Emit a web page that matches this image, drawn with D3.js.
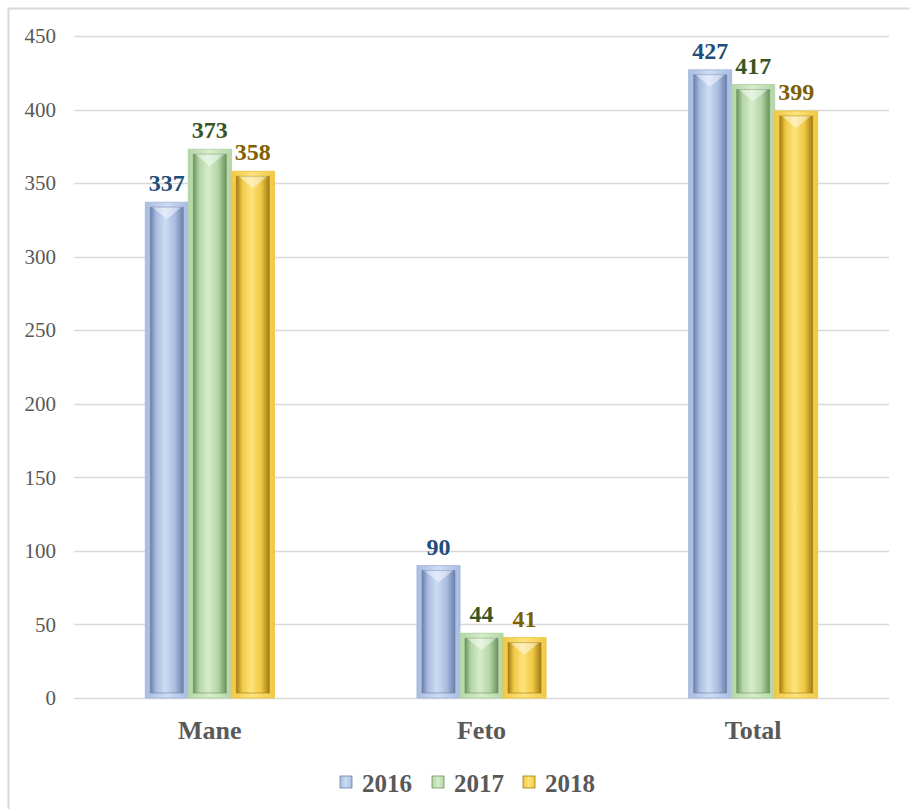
<!DOCTYPE html>
<html>
<head>
<meta charset="utf-8">
<script src="https://cdn.jsdelivr.net/npm/d3@7"></script>
<style>
  body { margin: 0; background: #fff; }
  svg { display: block; }
</style>
</head>
<body>
<div id="chart"></div>
<script>
(function() {
  var categories = ["Mane", "Feto", "Total"];
  var years = ["2016", "2017", "2018"];
  var values2016 = [337, 90, 427];
  var values2017 = [373, 44, 417];
  var values2018 = [358, 41, 399];
  var yTicks = [0, 50, 100, 150, 200, 250, 300, 350, 400, 450];

  var seriesValues = [values2016, values2017, values2018];

  // bar shading per series: [mid, light, dark, label colour]
  var palette = {
    "2016": { mid: "#A9BCDF", light: "#CDDCF5", dark: "#6A80AA", label: "#1F4E79" },
    "2017": { mid: "#B4D5A7", light: "#D5EDCB", dark: "#6A935B", label: "#375623" },
    "2018": { mid: "#EFC845", light: "#FDE47C", dark: "#A47C12", label: "#7F6000" }
  };

  var width = 910, height = 809;
  var margin = { left: 74, right: 21, top: 36, bottom: 111 };
  var font = "'Liberation Serif', 'Times New Roman', serif";

  var svg = d3.select("#chart").append("svg")
    .attr("width", width).attr("height", height);

  var defs = svg.append("defs");
  years.forEach(function(yr) {
    var p = palette[yr];
    var g = defs.append("linearGradient").attr("id", "outer" + yr)
      .attr("x1", "0").attr("x2", "1").attr("y1", "0").attr("y2", "0");
    g.append("stop").attr("offset", "0%").attr("stop-color", p.mid);
    g.append("stop").attr("offset", "50%").attr("stop-color", p.light);
    g.append("stop").attr("offset", "100%").attr("stop-color", p.mid);
    var h = defs.append("linearGradient").attr("id", "inner" + yr)
      .attr("x1", "0").attr("x2", "1").attr("y1", "0").attr("y2", "0");
    h.append("stop").attr("offset", "0%").attr("stop-color", p.dark);
    h.append("stop").attr("offset", "18%").attr("stop-color", p.mid);
    h.append("stop").attr("offset", "45%").attr("stop-color", p.light);
    h.append("stop").attr("offset", "75%").attr("stop-color", p.mid);
    h.append("stop").attr("offset", "100%").attr("stop-color", p.dark);
  });

  // chart border
  svg.append("rect")
    .attr("x", 8.5).attr("y", 8.5)
    .attr("width", width).attr("height", height)
    .attr("fill", "none").attr("stroke", "#d9d9d9").attr("stroke-width", 2);

  var x0 = d3.scaleBand().domain(categories)
    .range([margin.left, width - margin.right])
    .paddingInner(0.525).paddingOuter(0.2625);
  var x1 = d3.scaleBand().domain(years).range([0, x0.bandwidth()]).padding(0);
  var y = d3.scaleLinear().domain([0, 450]).range([height - margin.bottom, margin.top]);

  // grid
  svg.append("g").selectAll("line").data(yTicks).join("line")
    .attr("x1", margin.left).attr("x2", width - margin.right)
    .attr("y1", function(d) { return Math.round(y(d)) + 0.5; })
    .attr("y2", function(d) { return Math.round(y(d)) + 0.5; })
    .attr("stroke", "#d9d9d9").attr("stroke-width", 1.5);

  var yAxis = d3.axisLeft(y).tickValues(yTicks).tickSize(0).tickPadding(18);
  var ya = svg.append("g").attr("transform", "translate(" + margin.left + ",0)").call(yAxis);
  ya.select(".domain").remove();
  ya.selectAll("text").attr("font-family", font).attr("font-size", 21).attr("fill", "#595959");

  var xAxis = d3.axisBottom(x0).tickSize(0).tickPadding(23);
  var xa = svg.append("g").attr("transform", "translate(0," + y(0) + ")").call(xAxis);
  xa.select(".domain").remove();
  xa.selectAll("text").attr("font-family", font).attr("font-size", 26)
    .attr("font-weight", "bold").attr("fill", "#595959");

  var rows = [];
  categories.forEach(function(c, i) {
    years.forEach(function(yr, j) {
      rows.push({ cat: c, year: yr, value: seriesValues[j][i] });
    });
  });

  var bars = svg.append("g").selectAll("g").data(rows).join("g")
    .attr("transform", function(d) { return "translate(" + (x0(d.cat) + x1(d.year)) + ",0)"; });

  var bw = x1.bandwidth();
  var inset = 5;
  bars.append("rect")
    .attr("x", 0).attr("width", bw)
    .attr("y", function(d) { return y(d.value); })
    .attr("height", function(d) { return y(0) - y(d.value); })
    .attr("fill", function(d) { return "url(#outer" + d.year + ")"; })
    .attr("stroke", function(d) { return palette[d.year].mid; }).attr("stroke-width", 1);
  bars.append("rect")
    .attr("x", inset).attr("width", bw - inset * 2)
    .attr("y", function(d) { return y(d.value) + inset; })
    .attr("height", function(d) { return Math.max(0, y(0) - y(d.value) - inset * 2); })
    .attr("fill", function(d) { return "url(#inner" + d.year + ")"; })
    .attr("stroke", function(d) { return palette[d.year].dark; }).attr("stroke-width", 1)
    .attr("stroke-opacity", 0.6);
  // top bevel highlight
  bars.append("path")
    .attr("d", function(d) {
      var t = y(d.value) + inset;
      return "M" + (inset + 2) + "," + t + "L" + (bw - inset - 2) + "," + t +
        "L" + (bw / 2) + "," + (t + 12) + "Z";
    })
    .attr("fill", "#ffffff").attr("opacity", 0.45);

  // value labels
  bars.append("text")
    .attr("x", bw / 2)
    .attr("y", function(d) { return y(d.value) - 11; })
    .attr("text-anchor", "middle")
    .attr("font-family", font).attr("font-size", 24).attr("font-weight", "bold")
    .attr("fill", function(d) { return palette[d.year].label; })
    .text(function(d) { return d.value; });

  // legend
  var legendX = [340, 432, 523];
  var legend = svg.append("g").selectAll("g").data(years).join("g")
    .attr("transform", function(d, i) { return "translate(" + legendX[i] + ",776)"; });
  legend.append("rect")
    .attr("width", 12).attr("height", 12)
    .attr("fill", function(d) { return "url(#outer" + d + ")"; })
    .attr("stroke", function(d) { return palette[d].dark; }).attr("stroke-width", 0.8);
  legend.append("text")
    .attr("x", 22).attr("y", 16)
    .attr("font-family", font).attr("font-size", 25).attr("font-weight", "bold")
    .attr("fill", "#595959")
    .text(function(d) { return d; });
})();
</script>
</body>
</html>
